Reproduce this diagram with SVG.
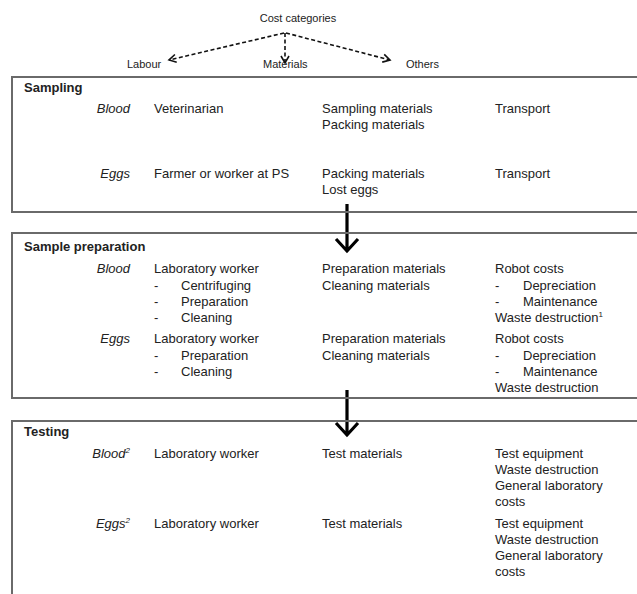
<svg xmlns="http://www.w3.org/2000/svg" width="637" height="594" viewBox="0 0 637 594">
<defs>
<style>
text{font-family:"Liberation Sans",Arial,sans-serif;font-size:13px;fill:#222}
.h{font-size:11px}
.b{font-weight:bold}
.i{font-style:italic}
.r{text-anchor:end}
.sup{font-size:8px}
.box{fill:none;stroke:#6a6a6a;stroke-width:2}
.dash{fill:none;stroke:#111;stroke-width:1.6;stroke-dasharray:4 2.5}
.thick{fill:none;stroke:#000;stroke-width:3.2}
</style>
<marker id="oh" markerWidth="10" markerHeight="10" refX="8" refY="5" orient="auto" markerUnits="userSpaceOnUse">
<path d="M1,1 L8,5 L1,9" fill="none" stroke="#111" stroke-width="1.6"/>
</marker>
</defs>

<g id="header">
<text class="h" x="298" y="22" text-anchor="middle">Cost categories</text>
<text class="h" x="127" y="68">Labour</text>
<text class="h" x="263" y="68">Materials</text>
<text class="h" x="406" y="68">Others</text>
</g>

<g id="connectors">
<line class="dash" x1="284" y1="33" x2="169" y2="60" marker-end="url(#oh)"/>
<line class="dash" x1="285" y1="33" x2="285" y2="63" marker-end="url(#oh)"/>
<line class="dash" x1="286" y1="33" x2="390" y2="60" marker-end="url(#oh)"/>
<path class="thick" d="M347,204 V251 M336,239 L347,251 L358,239"/>
<path class="thick" d="M347,390 V435 M336,423 L347,435 L358,423"/>
</g>

<g id="sampling">
<path class="box" d="M640,77 H12 V212 H640"/>
<text class="b" x="24" y="92">Sampling</text>
<text class="i r" x="130" y="113">Blood</text>
<text x="154" y="113">Veterinarian</text>
<text x="322" y="113">Sampling  materials</text>
<text x="322" y="129">Packing materials</text>
<text x="495" y="113">Transport</text>
<text class="i r" x="130" y="178">Eggs</text>
<text x="154" y="178">Farmer or worker at PS</text>
<text x="322" y="178">Packing materials</text>
<text x="322" y="194">Lost eggs</text>
<text x="495" y="178">Transport</text>
</g>

<g id="sample-preparation">
<path class="box" d="M640,233 H12 V398 H640"/>
<text class="b" x="24" y="251">Sample preparation</text>
<text class="i r" x="130" y="273">Blood</text>
<text x="154" y="273">Laboratory worker</text>
<text x="154" y="289.5">-</text><text x="181" y="289.5">Centrifuging</text>
<text x="154" y="306">-</text><text x="181" y="306">Preparation</text>
<text x="154" y="322">-</text><text x="181" y="322">Cleaning</text>
<text x="322" y="273">Preparation materials</text>
<text x="322" y="289.5">Cleaning  materials</text>
<text x="495" y="273">Robot costs</text>
<text x="495" y="289.5">-</text><text x="523" y="289.5">Depreciation</text>
<text x="495" y="306">-</text><text x="523" y="306">Maintenance</text>
<text x="495" y="322">Waste destruction<tspan class="sup" dy="-5">1</tspan></text>
<text class="i r" x="130" y="343">Eggs</text>
<text x="154" y="343">Laboratory worker</text>
<text x="154" y="359.5">-</text><text x="181" y="359.5">Preparation</text>
<text x="154" y="376">-</text><text x="181" y="376">Cleaning</text>
<text x="322" y="343">Preparation materials</text>
<text x="322" y="359.5">Cleaning  materials</text>
<text x="495" y="343">Robot costs</text>
<text x="495" y="359.5">-</text><text x="523" y="359.5">Depreciation</text>
<text x="495" y="376">-</text><text x="523" y="376">Maintenance</text>
<text x="495" y="392">Waste destruction</text>
</g>

<g id="testing">
<path class="box" d="M640,421 H12 V600"/>
<text class="b" x="24" y="436">Testing</text>
<text class="i r" x="130" y="458">Blood<tspan class="sup" dy="-5">2</tspan></text>
<text x="154" y="458">Laboratory worker</text>
<text x="322" y="458">Test materials</text>
<text x="495" y="458">Test equipment</text>
<text x="495" y="474">Waste destruction</text>
<text x="495" y="490">General laboratory</text>
<text x="495" y="506">costs</text>
<text class="i r" x="130" y="528">Eggs<tspan class="sup" dy="-5">2</tspan></text>
<text x="154" y="528">Laboratory worker</text>
<text x="322" y="528">Test materials</text>
<text x="495" y="528">Test equipment</text>
<text x="495" y="544">Waste destruction</text>
<text x="495" y="560">General laboratory</text>
<text x="495" y="576">costs</text>
</g>
</svg>
